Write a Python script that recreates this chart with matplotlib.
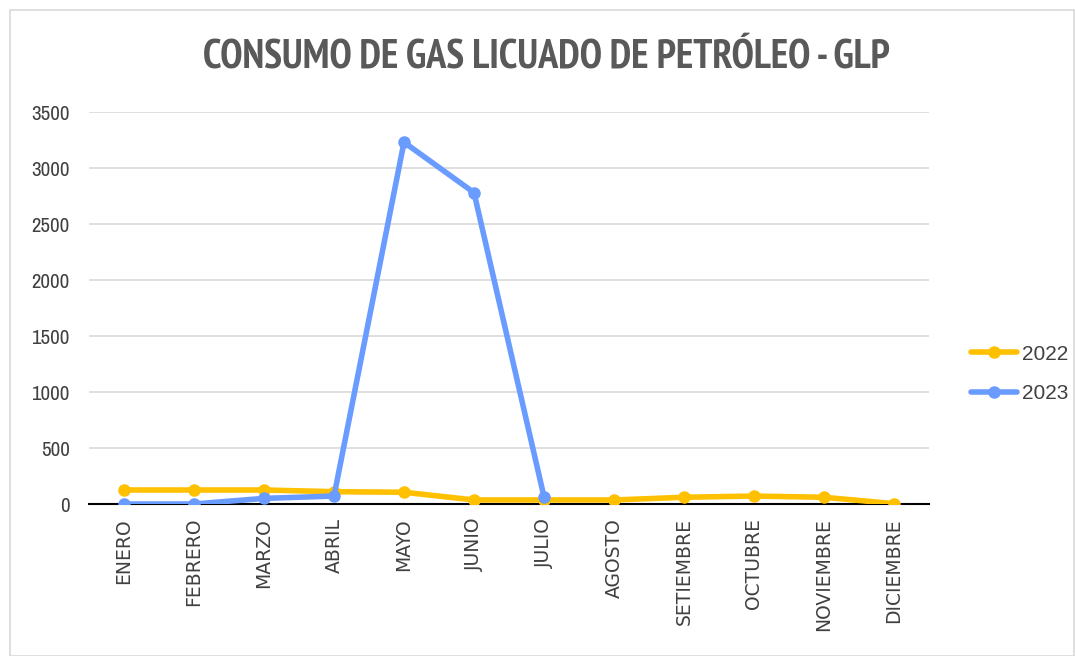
import matplotlib
matplotlib.use("Agg")
import matplotlib.pyplot as plt
from matplotlib import font_manager as fm
from matplotlib.patches import Rectangle

months = ["ENERO", "FEBRERO", "MARZO", "ABRIL", "MAYO", "JUNIO", "JULIO",
          "AGOSTO", "SETIEMBRE", "OCTUBRE", "NOVIEMBRE", "DICIEMBRE"]
y2022 = [125, 125, 125, 110, 105, 36, 36, 36, 60, 71, 60, 3]
y2023 = [0, 0, 50, 71, 3230, 2780, 65]
yticks = [0, 500, 1000, 1500, 2000, 2500, 3000, 3500]

entries = [f for f in fm.fontManager.ttflist
           if ("Narrow" in f.name or "Condensed" in f.name
               or "Narrow" in f.fname or "Condensed" in f.fname)]
narrow = sorted({f.name for f in entries})[0] if entries else None


def is_bold(f):
    return ((isinstance(f.weight, int) and f.weight >= 600)
            or str(f.weight).lower() in ("bold", "semibold", "demibold", "heavy", "black")
            or "Bold" in f.fname)


bold_entries = [f for f in entries if is_bold(f) and "Italic" not in f.fname]
bold_entries.sort(key=lambda f: (0 if "Narrow" in f.name else
                                 1 if "Roboto" in f.name else 2,
                                 0 if f.name == narrow else 1,
                                 0 if str(f.weight) in ("700", "bold") else 1))
if bold_entries:
    title_fp = fm.FontProperties(fname=bold_entries[0].fname)
elif narrow:
    title_fp = fm.FontProperties(family=narrow, weight="bold")
else:
    title_fp = fm.FontProperties(family="Liberation Sans", weight="bold")

fig = plt.figure(figsize=(10.75, 6.56), dpi=100)
W, H = 1075, 656
fig.patches.append(Rectangle((10 / W, 0), (W - 11) / W, (H - 10) / H,
                             transform=fig.transFigure, fill=False,
                             edgecolor="#D9D9D9", linewidth=1.2))

left, right, top, bottom = 89, 929, 112, 504
ax = fig.add_axes([left / W, 1 - bottom / H, (right - left) / W, (bottom - top) / H])

yellow = "#FFC000"
blue = "#6A9BFF"
x = list(range(len(months)))
ax.plot(x, y2022, color=yellow, lw=4, marker="o", ms=8, label="2022",
        solid_capstyle="round", zorder=3)
ax.plot(x[:len(y2023)], y2023, color=blue, lw=4, marker="o", ms=8, label="2023",
        solid_capstyle="round", zorder=4)

ax.set_xlim(-0.5, len(months) - 0.5)
ax.set_ylim(0, 3500)
ax.set_yticks(yticks)
ax.set_yticklabels([str(v) for v in yticks], fontfamily=narrow or "Liberation Sans",
                   fontsize=15 if narrow else 14, color="#404040")
ax.set_xticks(x)
ax.set_xticklabels(months, rotation=90, fontfamily="DejaVu Sans", fontsize=13.5,
                   color="#404040", va="top")
ax.tick_params(axis="both", length=0)
ax.tick_params(axis="x", pad=10)
ax.tick_params(axis="y", pad=14)
ax.grid(axis="y", color="#D9D9D9", lw=1.2)
ax.set_axisbelow(True)
for s in ["top", "right", "left"]:
    ax.spines[s].set_visible(False)
ax.spines["bottom"].set_color("black")
ax.spines["bottom"].set_linewidth(1.5)
ax.spines["bottom"].set_zorder(2)

title = "CONSUMO DE GAS LICUADO DE PETRÓLEO - GLP"
title_fp.set_size(29)
t = fig.text(546 / W, 1 - 57 / H, title, ha="center", va="center",
             fontproperties=title_fp, color="#595959")
r = fig.canvas.get_renderer()
w = t.get_window_extent(r).width
target = 757
if w > target:
    title_fp.set_size(29 * target / w)
    t.set_fontproperties(title_fp)

leg = ax.legend(loc="center left", bbox_to_anchor=(952 / W, 1 - 374 / H),
                bbox_transform=fig.transFigure, frameon=False,
                prop={"family": "Liberation Sans", "size": 15},
                labelcolor="#404040", handlelength=2.2, handletextpad=0.25,
                labelspacing=1.0)

fig.savefig("out.png", dpi=100, facecolor="white")
